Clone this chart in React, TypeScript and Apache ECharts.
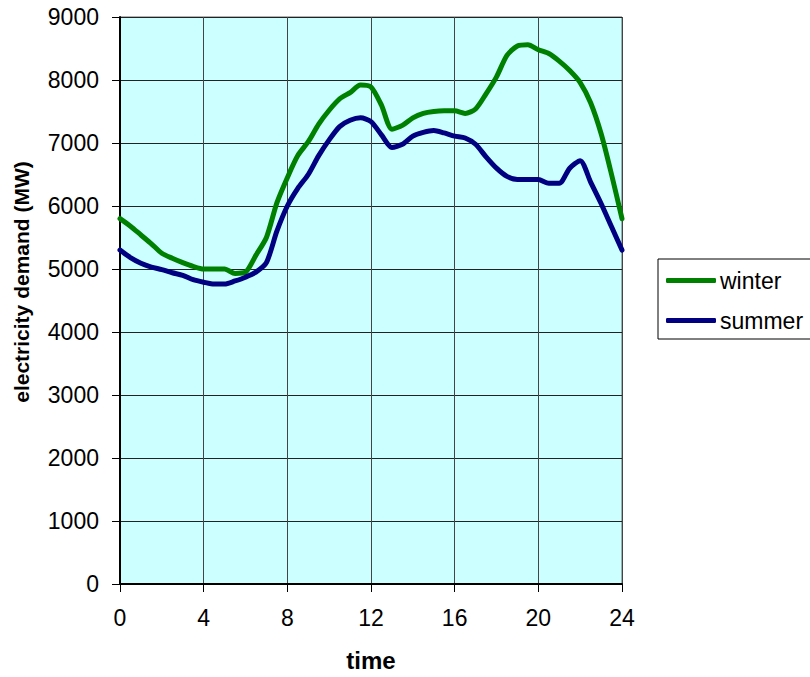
import React, { useEffect, useRef } from "react";
import * as echarts from "echarts";

const hours: number[] = [
  0, 0.5, 1, 1.5, 2, 2.5, 3, 3.5, 4, 4.5, 5, 5.5, 6, 6.5, 7, 7.5, 8, 8.5, 9, 9.5,
  10, 10.5, 11, 11.5, 12, 12.5, 13, 13.5, 14, 14.5, 15, 15.5, 16, 16.5, 17, 17.5,
  18, 18.5, 19, 19.5, 20, 20.5, 21, 21.5, 22, 22.5, 23, 23.5, 24,
];

const winter: number[] = [
  5800, 5680, 5540, 5400, 5250, 5170, 5100, 5040, 5000, 5000, 5000, 4930, 4950,
  5220, 5500, 6050, 6450, 6800, 7020, 7300, 7520, 7700, 7800, 7920, 7890, 7600,
  7220, 7280, 7400, 7470, 7500, 7510, 7510, 7470, 7540, 7780, 8050, 8390, 8540,
  8560, 8480, 8420, 8300, 8150, 7960, 7640, 7150, 6500, 5800,
];

const summer: number[] = [
  5300, 5180, 5090, 5030, 4990, 4940, 4900, 4830, 4790, 4760, 4760, 4810, 4870,
  4950, 5100, 5600, 6000, 6280, 6500, 6800, 7050, 7260, 7360, 7400, 7340, 7130,
  6930, 6980, 7110, 7170, 7200, 7160, 7110, 7080, 6980, 6780, 6600, 6470, 6420,
  6420, 6420, 6360, 6360, 6600, 6720, 6380, 6040, 5670, 5300,
];

const seriesNames: string[] = ["winter", "summer"];
const yAxisTitle = "electricity demand (MW)";
const xAxisTitle = "time";

const FONT = "Liberation Sans, Arial, sans-serif";

export default function App() {
  const ref = useRef<HTMLDivElement>(null);

  useEffect(() => {
    if (!ref.current) return;
    const chart = echarts.init(ref.current, undefined, { renderer: "svg" });
    const pair = (vals: number[]) => hours.map((h, i) => [h, vals[i]]);
    chart.setOption({
      animation: false,
      backgroundColor: "#ffffff",
      textStyle: { fontFamily: FONT },
      grid: {
        left: 120,
        right: 188,
        top: 17,
        bottom: 93,
        show: true,
        backgroundColor: "#CCFFFF",
        borderColor: "#666",
        borderWidth: 1,
      },
      graphic: [
        {
          type: "text",
          x: 21,
          y: 282,
          rotation: Math.PI / 2,
          style: {
            text: yAxisTitle,
            font: "bold 21px " + FONT,
            fill: "#000",
            textAlign: "center",
            textVerticalAlign: "middle",
          },
        },
      ],
      legend: {
        orient: "vertical",
        left: 658,
        top: 259,
        padding: [10, 30, 7, 8],
        itemGap: 17,
        itemWidth: 50,
        itemHeight: 5,
        icon: "roundRect",
        borderColor: "#000",
        borderWidth: 1,
        backgroundColor: "#fff",
        textStyle: { fontSize: 23, color: "#000", fontFamily: FONT, padding: [0, 0, 0, -1] },
        data: seriesNames,
      },
      xAxis: {
        type: "value",
        min: 0,
        max: 24,
        interval: 4,
        name: xAxisTitle,
        nameLocation: "middle",
        nameGap: 64,
        nameTextStyle: { fontSize: 24, fontWeight: "bold", color: "#000", fontFamily: FONT },
        axisLine: { show: true, onZero: false, lineStyle: { color: "#000", width: 2 } },
        axisTick: { show: true, length: 8, lineStyle: { color: "#000" } },
        axisLabel: { fontSize: 23, color: "#000", margin: 22, fontFamily: FONT },
        splitLine: { show: true, lineStyle: { color: "#444", width: 1 } },
      },
      yAxis: {
        type: "value",
        min: 0,
        max: 9000,
        interval: 1000,
        axisLine: { show: true, lineStyle: { color: "#000", width: 2 } },
        axisTick: { show: true, length: 8, lineStyle: { color: "#000" } },
        axisLabel: {
          fontSize: 23,
          color: "#000",
          margin: 21,
          fontFamily: FONT,
          formatter: (v: number) => String(v),
        },
        splitLine: { show: true, lineStyle: { color: "#222", width: 1 } },
      },
      series: [
        {
          name: seriesNames[0],
          type: "line",
          data: pair(winter),
          showSymbol: false,
          symbol: "none",
          smooth: 0.25,
          lineStyle: { color: "#008000", width: 5, cap: "round", join: "round" },
          itemStyle: { color: "#008000" },
        },
        {
          name: seriesNames[1],
          type: "line",
          data: pair(summer),
          showSymbol: false,
          symbol: "none",
          smooth: 0.25,
          lineStyle: { color: "#000080", width: 5, cap: "round", join: "round" },
          itemStyle: { color: "#000080" },
        },
      ],
    });
    return () => chart.dispose();
  }, []);

  return (
    <div
      ref={ref}
      style={{ position: "absolute", left: 0, top: 0, width: 810, height: 677 }}
    />
  );
}
